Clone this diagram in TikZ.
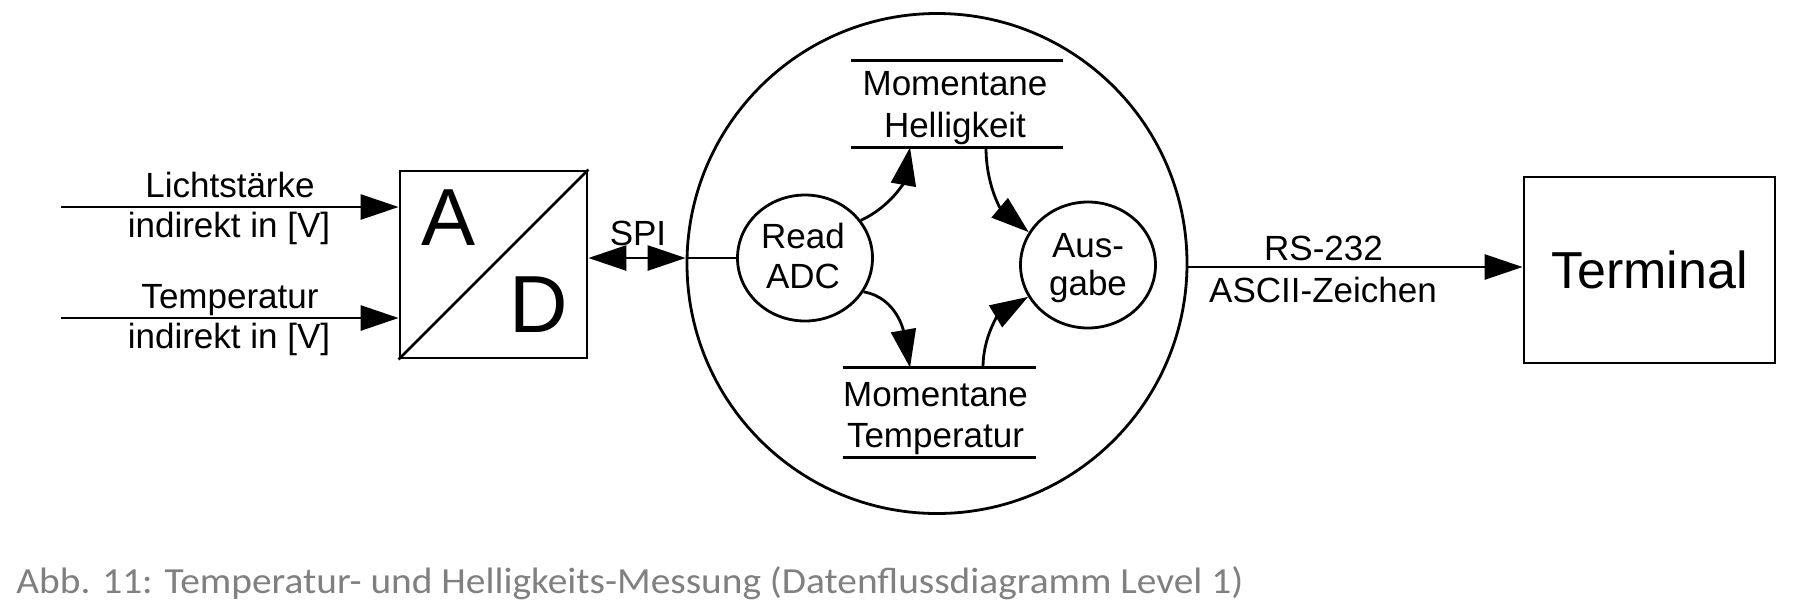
\documentclass[tikz,border=0pt]{standalone}
\usepackage{fontspec}
\setmainfont{Liberation Sans}
\newfontfamily\capfont[FakeStretch=1.07]{Carlito}
\usetikzlibrary{arrows.meta,shapes.geometric,calc}
\definecolor{capgray}{RGB}{128,128,128}
\begin{document}
\begin{tikzpicture}[x=1pt,y=-1pt, line width=2.8pt,
  lbl/.style={font=\fontsize{35}{42}\selectfont, inner sep=0pt, anchor=base},
  big letter/.style={font=\fontsize{81}{90}\selectfont, inner sep=0pt, anchor=base},
  arr/.style={-{Triangle[length=38pt,width=25pt]}},
  bubble/.style={ellipse, draw, minimum width=135pt, minimum height=126pt, inner sep=0pt},
  store/.style={inner sep=0pt},
  box/.style={draw, inner sep=0pt}
]
\useasboundingbox (0,0) rectangle (1794,614);

% A/D converter
\node[box, minimum width=187pt, minimum height=187pt] (ad) at (493.5,264.5) {};
\draw (ad.south west) -- (ad.north east);
\node[big letter] (A) at (449,245) {A};
\node[big letter] (D) at (538.5,332) {D};

% inputs
\coordinate (in1) at (61,207);
\coordinate (in2) at (61,318);
\draw[arr] (in1) -- (in1 -| ad.west);
\draw[arr] (in2) -- (in2 -| ad.west);
\node[lbl] (l1a) at (230,197) {Lichtstärke};
\node[lbl] (l1b) at (229,237) {indirekt in [V]};
\node[lbl] (l2a) at (230,308) {Temperatur};
\node[lbl] (l2b) at (229,348) {indirekt in [V]};

% big process circle
\node[circle, draw, minimum size=500pt, inner sep=0pt] (big) at (937,263.5) {};

% inner processes
\node[bubble] (read) at (805,258) {};
\node[lbl] (read1) at (803,248) {Read};
\node[lbl] (read2) at (803,288) {ADC};
\node[bubble] (aus) at (1088,265) {};
\node[lbl] (aus1) at (1088,257) {Aus-};
\node[lbl] (aus2) at (1088,295) {gabe};

% data stores
\node[store, minimum width=209pt, minimum height=84pt] (hell) at (957,104) {};
\draw (hell.north west) -- (hell.north east);
\draw (hell.south west) -- (hell.south east);
\node[lbl] (hell1) at (955,95) {Momentane};
\node[lbl] (hell2) at (955,137) {Helligkeit};

\node[store, minimum width=191pt, minimum height=87pt] (temp) at (939.5,412.5) {};
\draw (temp.north west) -- (temp.north east);
\draw (temp.south west) -- (temp.south east);
\node[lbl] (temp1) at (935.5,406) {Momentane};
\node[lbl] (temp2) at (935.5,447) {Temperatur};

% SPI
\draw[{Triangle[length=38pt,width=25pt]}-{Triangle[length=38pt,width=25pt]}] (ad.east |- read.west) -- (big.west |- read.west);
\draw (big.west |- read.west) -- (read.west);
\node[lbl] (spi) at (638,245) {SPI};

% inner flows
\draw[arr] (read.34) to[out=25,in=-100] ($(hell.south)+(-47,0)$);
\draw[arr] ($(hell.south)+(29,0)$) to[out=-90,in=140] (aus.151);
\draw[arr] (read.-30) to[out=-10,in=100] ($(temp.north)+(-29.5,0)$);
\draw[arr] ($(temp.north)+(43.5,0)$) to[out=90,in=-149] (aus.208);

% terminal
\node[box, minimum width=251pt, minimum height=186pt, font=\fontsize{52}{60}\selectfont] (term) at (1649.5,270) {Terminal};
\coordinate (rs) at (1187,267);
\draw[arr] (rs) -- (rs -| term.west);
\node[lbl] (rs1) at (1323.5,260) {RS-232};
\node[lbl] (rs2) at (1323,302) {ASCII-Zeichen};

% caption
\node[font=\capfont\fontsize{36.8}{42}\selectfont, text=capgray, anchor=base west, inner sep=0pt] (cap) at (15,593) {Abb. 11: Temperatur- und Helligkeits-Messung (Datenflussdiagramm Level 1)};
\end{tikzpicture}
\end{document}
